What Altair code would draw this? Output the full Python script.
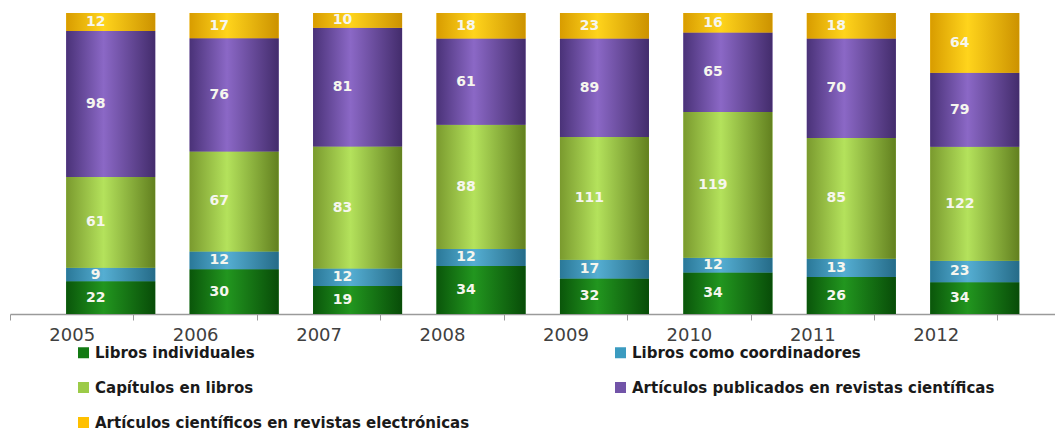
import altair as alt
import pandas as pd

years = ["2005", "2006", "2007", "2008", "2009", "2010", "2011", "2012"]
series = [
    "Libros individuales",
    "Libros como coordinadores",
    "Capítulos en libros",
    "Artículos publicados en revistas científicas",
    "Artículos científicos en revistas electrónicas",
]
libros_individuales = [22, 30, 19, 34, 32, 34, 26, 34]
libros_coordinadores = [9, 12, 12, 12, 17, 12, 13, 23]
capitulos_libros = [61, 67, 83, 88, 111, 119, 85, 122]
articulos_publicados = [98, 76, 81, 61, 89, 65, 70, 79]
articulos_electronicos = [12, 17, 10, 18, 23, 16, 18, 64]

flat_colors = ["#137a13", "#3b9bc0", "#9ccb48", "#7254a8", "#ffc000"]
grad_colors = [
    ("#0a560a", "#22961f", "#084c08"),
    ("#2a7898", "#55aed2", "#256b88"),
    ("#7a9a2e", "#b4e25c", "#62801f"),
    ("#4a3278", "#8b68c6", "#432c6c"),
    ("#d89c00", "#ffd41c", "#cc9200"),
]

all_values = [libros_individuales, libros_coordinadores, capitulos_libros,
              articulos_publicados, articulos_electronicos]
rows = []
for si, (name, vals) in enumerate(zip(series, all_values)):
    for yi, y in enumerate(years):
        rows.append({"year": y, "series": name, "order": si, "value": vals[yi]})
df = pd.DataFrame(rows)

base = alt.Chart(df).transform_stack(
    stack="value",
    groupby=["year"],
    sort=[alt.SortField("order", order="ascending")],
    as_=["y0", "y1"],
    offset="normalize",
)

x_enc = alt.X(
    "year:N",
    sort=years,
    scale=alt.Scale(domain=years, paddingInner=0, paddingOuter=0.233, align=0),
    axis=alt.Axis(
        title=None,
        tickBand="extent",
        labelAngle=0,
        labelFont="DejaVu Sans",
        labelFontSize=18,
        labelColor="#404040",
        labelPadding=6,
        tickSize=6,
        tickColor="#9a9a9a",
        domainColor="#9a9a9a",
        domainWidth=1.5,
        grid=False,
    ),
)
y_enc = alt.Y("y0:Q", scale=alt.Scale(domain=[0, 1], nice=False), axis=None)

BAR_W = 89
SHIFT = 39

bars = base.mark_bar(xOffset=SHIFT, width=BAR_W).encode(
    x=x_enc,
    y=y_enc,
    y2="y1:Q",
    color=alt.Color(
        "series:N",
        scale=alt.Scale(domain=series, range=flat_colors),
        legend=alt.Legend(
            title=None,
            orient="none",
            direction="horizontal",
            legendX=66,
            legendY=332,
            columns=2,
            columnPadding=143,
            rowPadding=19,
            symbolType="square",
            symbolSize=121,
            symbolStrokeWidth=0,
            labelFont="DejaVu Sans",
            labelFontSize=15,
            labelFontWeight="bold",
            labelColor="#1a1a1a",
            labelOffset=4,
            labelLimit=600,
            padding=0,
        ),
    ),
)

grad_layers = []
for name, (c0, c1, c2) in zip(series, grad_colors):
    g = alt.Gradient(
        gradient="linear",
        stops=[
            alt.GradientStop(color=c0, offset=0),
            alt.GradientStop(color=c1, offset=0.42),
            alt.GradientStop(color=c2, offset=1),
        ],
        x1=0, x2=1, y1=0, y2=0,
    )
    layer = base.transform_filter(alt.datum.series == name).mark_bar(
        xOffset=SHIFT, width=BAR_W, fill=g
    ).encode(x=x_enc, y=y_enc, y2="y1:Q")
    grad_layers.append(layer)

labels = base.transform_calculate(mid="(datum.y0 + datum.y1) / 2").mark_text(
    dx=SHIFT - 15,
    font="DejaVu Sans",
    fontSize=14,
    fontWeight="bold",
    color="#f6f6ee",
    baseline="middle",
    align="center",
).encode(
    x=x_enc,
    y=alt.Y("mid:Q", scale=alt.Scale(domain=[0, 1], nice=False), axis=None),
    text="value:Q",
)

chart = alt.layer(bars, *grad_layers, labels).properties(
    width=1045,
    height=301,
    autosize=alt.AutoSizeParams(type="none"),
    padding={"left": 2, "top": 5, "right": 0, "bottom": 118},
).configure_view(stroke=None)

chart.save("out.html", embed_options={"renderer": "svg", "actions": False})
